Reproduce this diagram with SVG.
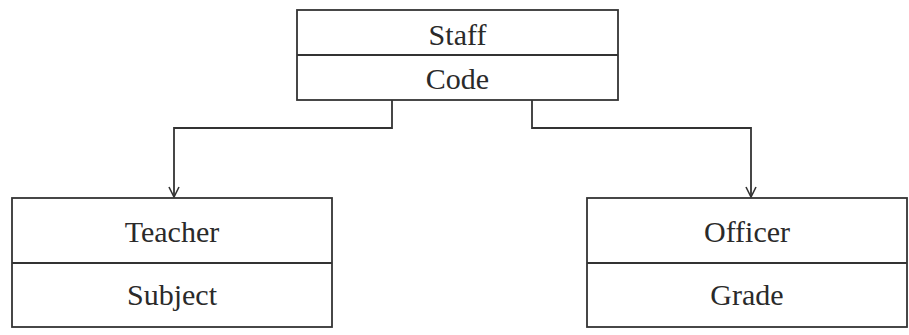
<svg xmlns="http://www.w3.org/2000/svg" width="909" height="335" viewBox="0 0 909 335">
  <style>
    .box { fill: #ffffff; stroke: #333333; stroke-width: 1.8; }
    .div { stroke: #333333; stroke-width: 1.8; }
    .lbl { font-family: "Liberation Serif", "DejaVu Serif", "Times New Roman", serif; font-size: 30px; fill: #2a2a2a; text-anchor: middle; }
    .conn { fill: none; stroke: #333333; stroke-width: 1.8; }
  </style>
  <defs>
    <marker id="arrow" markerWidth="14" markerHeight="14" refX="12" refY="7" orient="auto" markerUnits="userSpaceOnUse">
      <path d="M2,2 L12,7 L2,12" fill="none" stroke="#333333" stroke-width="1.6"/>
    </marker>
  </defs>
  <rect width="909" height="335" fill="#ffffff"/>

  <g id="connectors">
    <path class="conn" d="M392,100 V128 H174 V197" marker-end="url(#arrow)"/>
    <path class="conn" d="M532,100 V128 H751 V197" marker-end="url(#arrow)"/>
  </g>

  <g id="staff">
    <rect class="box" x="297" y="10" width="321" height="90"/>
    <line class="div" x1="297" y1="55" x2="618" y2="55"/>
    <text class="lbl" x="457.5" y="45">Staff</text>
    <text class="lbl" x="457.5" y="89">Code</text>
  </g>

  <g id="teacher">
    <rect class="box" x="12" y="198" width="320" height="129"/>
    <line class="div" x1="12" y1="263" x2="332" y2="263"/>
    <text class="lbl" x="172" y="242">Teacher</text>
    <text class="lbl" x="172" y="305">Subject</text>
  </g>

  <g id="officer">
    <rect class="box" x="587" y="198" width="320" height="129"/>
    <line class="div" x1="587" y1="263" x2="907" y2="263"/>
    <text class="lbl" x="747" y="242">Officer</text>
    <text class="lbl" x="747" y="305">Grade</text>
  </g>
</svg>
